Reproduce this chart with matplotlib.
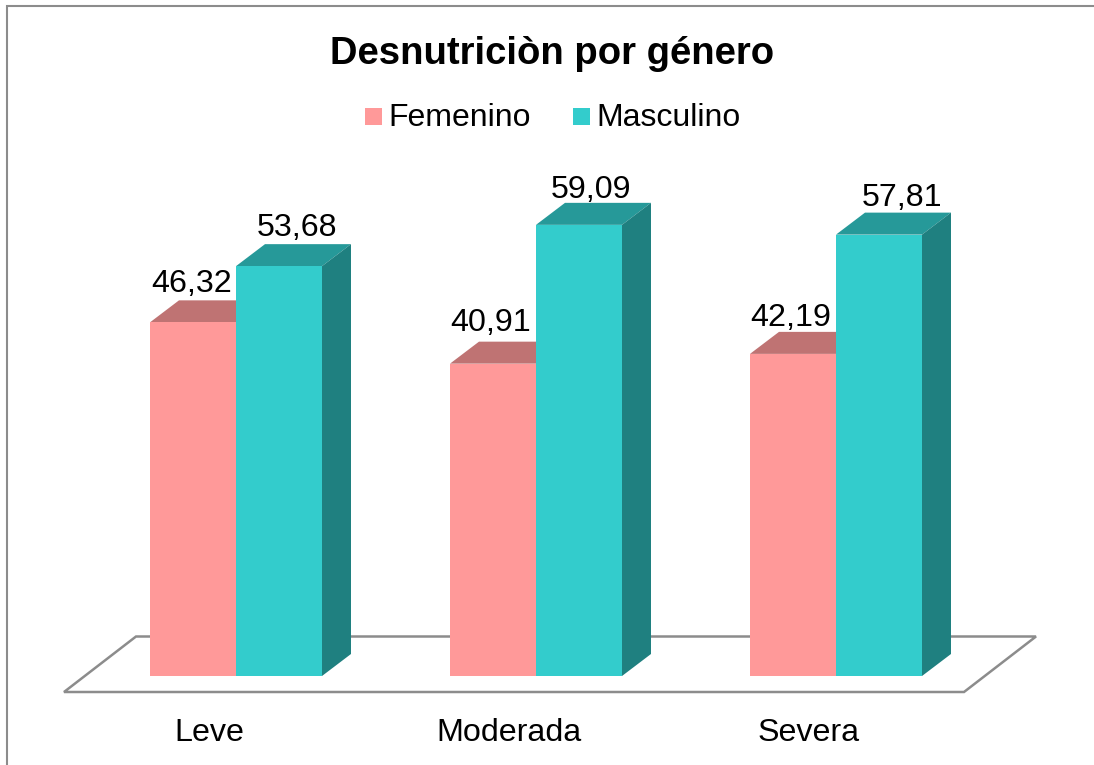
import matplotlib
matplotlib.use('Agg')
import matplotlib.pyplot as plt
from matplotlib.patches import Polygon, Rectangle

plt.rcParams['font.family'] = ['Liberation Sans', 'DejaVu Sans']

categorias = ['Leve', 'Moderada', 'Severa']
femenino = [46.32, 40.91, 42.19]
masculino = [53.68, 59.09, 57.81]
etiquetas_fem = ['46,32', '40,91', '42,19']
etiquetas_mas = ['53,68', '59,09', '57,81']

# desplazamiento de cada etiqueta respecto a la barra, en pixeles
ajuste_fem = [-1, -2, -2]
ajuste_mas = [61, 55, 66]
alto_fem = [30, 33, 27.5]
alto_mas = [30, 27, 29]

W, H = 1094, 765
# escala: 300 px por categoria, 7.635 px por unidad
px_x = 300.0
px_y = 7.635
x0_px = 236.0
y0_px = 676.0
ancho = 86 / px_x
dx = 29 / px_x
dy = 22 / px_y

fig = plt.figure(figsize=(W / 100, H / 100), dpi=100)
ax = fig.add_axes([0, 0, 1, 1])
ax.set_xlim(-x0_px / px_x, (W - x0_px) / px_x)
ax.set_ylim((y0_px - H) / px_y, y0_px / px_y)
ax.axis('off')


def px(x, y):
    # pasa pixeles de la imagen a datos, solo para marco y piso
    return (x - x0_px) / px_x, (y0_px - y) / px_y


# marco, solo arriba e izquierda
xs, ys = zip(px(7, 765), px(7, 5.5), px(1094, 5.5))
ax.plot(xs, ys, color='#8c8c8c', lw=1.5, solid_joinstyle='miter')
# piso
ax.add_patch(Polygon([px(64, 692), px(964, 692), px(1036, 636.5), px(136, 636.5)],
                     closed=True, fc='white', ec='#8c8c8c', lw=1.8, zorder=1))


# barra con caras superior y lateral
def barra(x, v, frente, arriba, lado):
    ax.bar(x, v, ancho, align='edge', color=frente, zorder=3)
    ax.add_patch(Polygon([(x, v), (x + dx, v + dy), (x + ancho + dx, v + dy), (x + ancho, v)],
                         closed=True, fc=arriba, ec='none', zorder=2))
    ax.add_patch(Polygon([(x + ancho, 0), (x + ancho + dx, dy), (x + ancho + dx, v + dy), (x + ancho, v)],
                         closed=True, fc=lado, ec='none', zorder=2))


for i in range(len(categorias)):
    barra(i - ancho, femenino[i], '#ff9999', '#bf7373', '#bf7373')
    barra(i, masculino[i], '#33cccc', '#269999', '#1f8080')
    ax.text(i - ancho + (ajuste_fem[i] + 43) / px_x, femenino[i] + alto_fem[i] / px_y, etiquetas_fem[i],
            fontsize=23.2, ha='center', va='baseline', color='black', zorder=5)
    ax.text(i + ajuste_mas[i] / px_x, masculino[i] + alto_mas[i] / px_y, etiquetas_mas[i],
            fontsize=23.2, ha='center', va='baseline', color='black', zorder=5)
    ax.text(i - 0.09, (y0_px - 741) / px_y, categorias[i], fontsize=23.2, ha='center', va='baseline', color='black')

# titulo
ax.text(*px(552, 64), 'Desnutriciòn por género', fontsize=27.5, fontweight='bold',
        ha='center', va='baseline', color='black')

# leyenda
ax.add_patch(Rectangle(px(365, 125), 17 / px_x, 17 / px_y, fc='#ff9999', ec='none'))
ax.text(*px(388, 126), 'Femenino', fontsize=23, ha='left', va='baseline')
ax.add_patch(Rectangle(px(573, 125), 17 / px_x, 17 / px_y, fc='#33cccc', ec='none'))
ax.text(*px(596.5, 126), 'Masculino', fontsize=23, ha='left', va='baseline')

fig.savefig('out.png', dpi=100)
